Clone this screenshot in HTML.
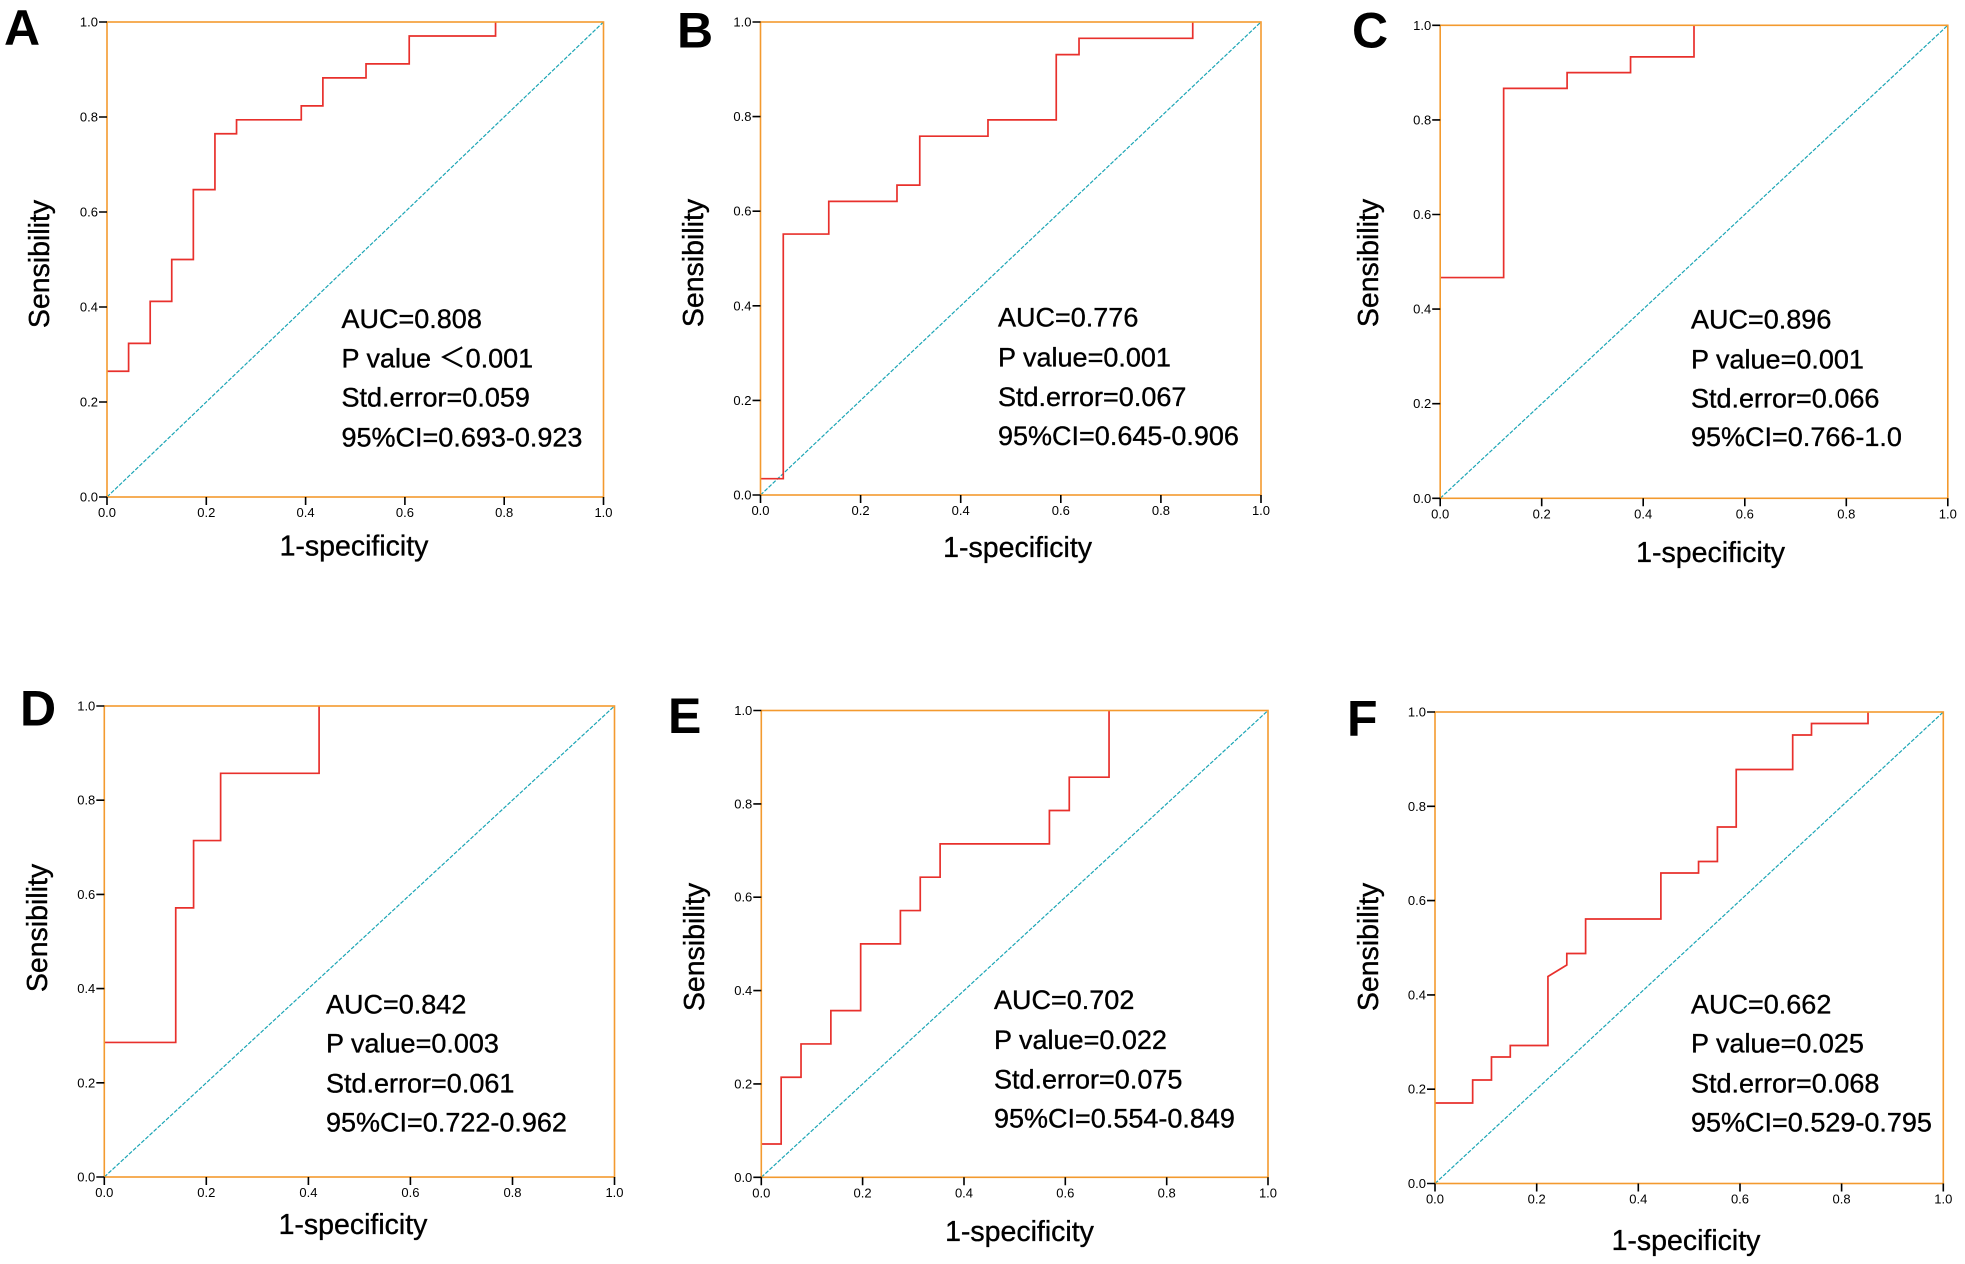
<!DOCTYPE html>
<html>
<head>
<meta charset="utf-8">
<style>
html,body{margin:0;padding:0;background:#fff;}
svg{display:block;}
.tk{font-family:"Liberation Sans",sans-serif;font-size:13px;fill:#000;}
.yl{text-anchor:end;}
.xl{text-anchor:middle;}
.ax{font-family:"Liberation Sans",sans-serif;font-size:28.5px;fill:#000;text-anchor:middle;stroke:#000;stroke-width:0.35;}
.an{font-family:"Liberation Sans","Noto Sans CJK SC",sans-serif;font-size:27px;fill:#000;stroke:#000;stroke-width:0.35;}
.lt{font-family:"Liberation Sans",sans-serif;font-size:50px;font-weight:bold;fill:#000;}
.frame{fill:none;stroke:#F39A2E;stroke-width:1.6;}
.roc{fill:none;stroke:#E8302C;stroke-width:1.7;vector-effect:non-scaling-stroke;}
.diag{stroke:#1BA5B5;stroke-width:1.2;stroke-dasharray:4 1.6;}
.tick{stroke:#000;stroke-width:1.6;fill:none;}
</style>
</head>
<body>
<svg width="1965" height="1264" viewBox="0 0 1965 1264" xmlns="http://www.w3.org/2000/svg">
<rect x="0" y="0" width="1965" height="1264" fill="#fff"/>

<!-- ================= PANEL A ================= -->
<text class="lt" x="4" y="45">A</text>
<line class="diag" x1="107" y1="497" x2="603.5" y2="22"/>
<g transform="translate(107 497) scale(496.5 -475)">
<path class="roc" d="M0,.2647 H.0435 V.3235 H.0870 V.4118 H.1304 V.5 H.1739 V.6471 H.2174 V.7647 H.2609 V.7941 H.3913 V.8235 H.4348 V.8824 H.5217 V.9118 H.6087 V.9706 H.7826 V1"/>
</g>
<rect class="frame" x="107" y="22" width="496.5" height="475"/>
<path class="tick" d="M99,497H107 M99,402H107 M99,307H107 M99,212H107 M99,117H107 M99,22H107 M107,497V505 M206.3,497V505 M305.6,497V505 M404.9,497V505 M504.2,497V505 M603.5,497V505"/>
<g class="tk yl">
<text x="98" y="501.5">0.0</text><text x="98" y="406.5">0.2</text><text x="98" y="311.5">0.4</text><text x="98" y="216.5">0.6</text><text x="98" y="121.5">0.8</text><text x="98" y="26.5">1.0</text>
</g>
<g class="tk xl">
<text x="107" y="517">0.0</text><text x="206.3" y="517">0.2</text><text x="305.6" y="517">0.4</text><text x="404.9" y="517">0.6</text><text x="504.2" y="517">0.8</text><text x="603.5" y="517">1.0</text>
</g>
<text class="ax" x="354" y="555.6">1-specificity</text>
<text class="ax" transform="translate(49 264) rotate(-90)">Sensibility</text>
<text class="an" x="341.5" y="327.8">AUC=0.808</text>
<text class="an" x="341.5" y="367.4">P value ＜0.001</text>
<text class="an" x="341.5" y="406.7">Std.error=0.059</text>
<text class="an" x="341.5" y="446.3">95%CI=0.693-0.923</text>

<!-- ================= PANEL B ================= -->
<text class="lt" x="677" y="47.5">B</text>
<line class="diag" x1="760.5" y1="495" x2="1261" y2="22"/>
<g transform="translate(760.5 495) scale(500.5 -473)">
<path class="roc" d="M0,.0345 H.0455 V.5517 H.1364 V.6207 H.2727 V.6552 H.3182 V.7586 H.4545 V.7931 H.5909 V.9310 H.6364 V.9655 H.8636 V1"/>
</g>
<rect class="frame" x="760.5" y="22" width="500.5" height="473"/>
<path class="tick" d="M752.5,495H760.5 M752.5,400.4H760.5 M752.5,305.8H760.5 M752.5,211.2H760.5 M752.5,116.6H760.5 M752.5,22H760.5 M760.5,495V503 M860.6,495V503 M960.7,495V503 M1060.8,495V503 M1160.9,495V503 M1261,495V503"/>
<g class="tk yl">
<text x="751.5" y="499.5">0.0</text><text x="751.5" y="404.9">0.2</text><text x="751.5" y="310.3">0.4</text><text x="751.5" y="215.7">0.6</text><text x="751.5" y="121.1">0.8</text><text x="751.5" y="26.5">1.0</text>
</g>
<g class="tk xl">
<text x="760.5" y="515">0.0</text><text x="860.6" y="515">0.2</text><text x="960.7" y="515">0.4</text><text x="1060.8" y="515">0.6</text><text x="1160.9" y="515">0.8</text><text x="1261" y="515">1.0</text>
</g>
<text class="ax" x="1017.6" y="557">1-specificity</text>
<text class="ax" transform="translate(703 263) rotate(-90)">Sensibility</text>
<text class="an" x="998" y="326.7">AUC=0.776</text>
<text class="an" x="998" y="366.7">P value=0.001</text>
<text class="an" x="998" y="406">Std.error=0.067</text>
<text class="an" x="998" y="445">95%CI=0.645-0.906</text>

<!-- ================= PANEL C ================= -->
<text class="lt" x="1352" y="47.5">C</text>
<line class="diag" x1="1440.2" y1="498.3" x2="1947.8" y2="25.3"/>
<g transform="translate(1440.2 498.3) scale(507.6 -473)">
<path class="roc" d="M0,.4667 H.125 V.8667 H.25 V.9 H.375 V.9333 H.5 V1"/>
</g>
<rect class="frame" x="1440.2" y="25.3" width="507.6" height="473"/>
<path class="tick" d="M1432.2,498.3H1440.2 M1432.2,403.7H1440.2 M1432.2,309.1H1440.2 M1432.2,214.5H1440.2 M1432.2,119.9H1440.2 M1432.2,25.3H1440.2 M1440.2,498.3V506.3 M1541.7,498.3V506.3 M1643.2,498.3V506.3 M1744.8,498.3V506.3 M1846.3,498.3V506.3 M1947.8,498.3V506.3"/>
<g class="tk yl">
<text x="1431.2" y="502.8">0.0</text><text x="1431.2" y="408.2">0.2</text><text x="1431.2" y="313.6">0.4</text><text x="1431.2" y="219">0.6</text><text x="1431.2" y="124.4">0.8</text><text x="1431.2" y="29.8">1.0</text>
</g>
<g class="tk xl">
<text x="1440.2" y="518.3">0.0</text><text x="1541.7" y="518.3">0.2</text><text x="1643.2" y="518.3">0.4</text><text x="1744.8" y="518.3">0.6</text><text x="1846.3" y="518.3">0.8</text><text x="1947.8" y="518.3">1.0</text>
</g>
<text class="ax" x="1710.6" y="562">1-specificity</text>
<text class="ax" transform="translate(1378 263) rotate(-90)">Sensibility</text>
<text class="an" x="1691" y="328.3">AUC=0.896</text>
<text class="an" x="1691" y="368.3">P value=0.001</text>
<text class="an" x="1691" y="407.3">Std.error=0.066</text>
<text class="an" x="1691" y="446">95%CI=0.766-1.0</text>

<!-- ================= PANEL D ================= -->
<text class="lt" x="20" y="725.7">D</text>
<line class="diag" x1="104.3" y1="1177" x2="614.5" y2="706"/>
<g transform="translate(104.3 1177) scale(510.2 -471)">
<path class="roc" d="M0,.2857 H.140 V.5714 H.175 V.7143 H.228 V.8571 H.421 V1"/>
</g>
<rect class="frame" x="104.3" y="706" width="510.2" height="471"/>
<path class="tick" d="M96.3,1177H104.3 M96.3,1082.8H104.3 M96.3,988.6H104.3 M96.3,894.4H104.3 M96.3,800.2H104.3 M96.3,706H104.3 M104.3,1177V1185 M206.3,1177V1185 M308.4,1177V1185 M410.4,1177V1185 M512.5,1177V1185 M614.5,1177V1185"/>
<g class="tk yl">
<text x="95.3" y="1181.5">0.0</text><text x="95.3" y="1087.3">0.2</text><text x="95.3" y="993.1">0.4</text><text x="95.3" y="898.9">0.6</text><text x="95.3" y="804.7">0.8</text><text x="95.3" y="710.5">1.0</text>
</g>
<g class="tk xl">
<text x="104.3" y="1197">0.0</text><text x="206.3" y="1197">0.2</text><text x="308.4" y="1197">0.4</text><text x="410.4" y="1197">0.6</text><text x="512.5" y="1197">0.8</text><text x="614.5" y="1197">1.0</text>
</g>
<text class="ax" x="353" y="1234">1-specificity</text>
<text class="ax" transform="translate(47 928) rotate(-90)">Sensibility</text>
<text class="an" x="326" y="1013.3">AUC=0.842</text>
<text class="an" x="326" y="1052.7">P value=0.003</text>
<text class="an" x="326" y="1092.3">Std.error=0.061</text>
<text class="an" x="326" y="1131.7">95%CI=0.722-0.962</text>

<!-- ================= PANEL E ================= -->
<text class="lt" x="668" y="733">E</text>
<line class="diag" x1="761.3" y1="1177.3" x2="1268" y2="710.5"/>
<g transform="translate(761.3 1177.3) scale(506.7 -466.8)">
<path class="roc" d="M0,.0714 H.0392 V.2143 H.0784 V.2857 H.1373 V.3571 H.1961 V.5 H.2745 V.5714 H.3137 V.6429 H.3529 V.7143 H.5686 V.7857 H.6078 V.8571 H.6863 V1"/>
</g>
<rect class="frame" x="761.3" y="710.5" width="506.7" height="466.8"/>
<path class="tick" d="M753.3,1177.3H761.3 M753.3,1083.9H761.3 M753.3,990.6H761.3 M753.3,897.2H761.3 M753.3,803.9H761.3 M753.3,710.5H761.3 M761.3,1177.3V1185.3 M862.6,1177.3V1185.3 M964,1177.3V1185.3 M1065.3,1177.3V1185.3 M1166.7,1177.3V1185.3 M1268,1177.3V1185.3"/>
<g class="tk yl">
<text x="752.3" y="1181.8">0.0</text><text x="752.3" y="1088.4">0.2</text><text x="752.3" y="995.1">0.4</text><text x="752.3" y="901.7">0.6</text><text x="752.3" y="808.4">0.8</text><text x="752.3" y="715">1.0</text>
</g>
<g class="tk xl">
<text x="761.3" y="1197.3">0.0</text><text x="862.6" y="1197.3">0.2</text><text x="964" y="1197.3">0.4</text><text x="1065.3" y="1197.3">0.6</text><text x="1166.7" y="1197.3">0.8</text><text x="1268" y="1197.3">1.0</text>
</g>
<text class="ax" x="1019.5" y="1241">1-specificity</text>
<text class="ax" transform="translate(704 947) rotate(-90)">Sensibility</text>
<text class="an" x="994" y="1009">AUC=0.702</text>
<text class="an" x="994" y="1049">P value=0.022</text>
<text class="an" x="994" y="1088.3">Std.error=0.075</text>
<text class="an" x="994" y="1127.7">95%CI=0.554-0.849</text>

<!-- ================= PANEL F ================= -->
<text class="lt" x="1347" y="735.5">F</text>
<line class="diag" x1="1435" y1="1183.5" x2="1943.3" y2="712"/>
<g transform="translate(1435 1183.5) scale(508.3 -471.5)">
<path class="roc" d="M0,.1707 H.0741 V.2195 H.1111 V.2683 H.1481 V.2927 H.2222 V.4390 L.2593,.4634 V.4878 H.2963 V.5610 H.4444 V.6585 H.5185 V.6829 H.5556 V.7561 H.5926 V.8780 H.7037 V.9512 H.7407 V.9756 H.8519 V1"/>
</g>
<rect class="frame" x="1435" y="712" width="508.3" height="471.5"/>
<path class="tick" d="M1427,1183.5H1435 M1427,1089.2H1435 M1427,994.9H1435 M1427,900.6H1435 M1427,806.3H1435 M1427,712H1435 M1435,1183.5V1191.5 M1536.7,1183.5V1191.5 M1638.3,1183.5V1191.5 M1740,1183.5V1191.5 M1841.6,1183.5V1191.5 M1943.3,1183.5V1191.5"/>
<g class="tk yl">
<text x="1426" y="1188">0.0</text><text x="1426" y="1093.7">0.2</text><text x="1426" y="999.4">0.4</text><text x="1426" y="905.1">0.6</text><text x="1426" y="810.8">0.8</text><text x="1426" y="716.5">1.0</text>
</g>
<g class="tk xl">
<text x="1435" y="1203.5">0.0</text><text x="1536.7" y="1203.5">0.2</text><text x="1638.3" y="1203.5">0.4</text><text x="1740" y="1203.5">0.6</text><text x="1841.6" y="1203.5">0.8</text><text x="1943.3" y="1203.5">1.0</text>
</g>
<text class="ax" x="1686" y="1250">1-specificity</text>
<text class="ax" transform="translate(1378 947) rotate(-90)">Sensibility</text>
<text class="an" x="1691" y="1013.3">AUC=0.662</text>
<text class="an" x="1691" y="1052.7">P value=0.025</text>
<text class="an" x="1691" y="1092.7">Std.error=0.068</text>
<text class="an" x="1691" y="1131.7">95%CI=0.529-0.795</text>
</svg>
</body>
</html>
